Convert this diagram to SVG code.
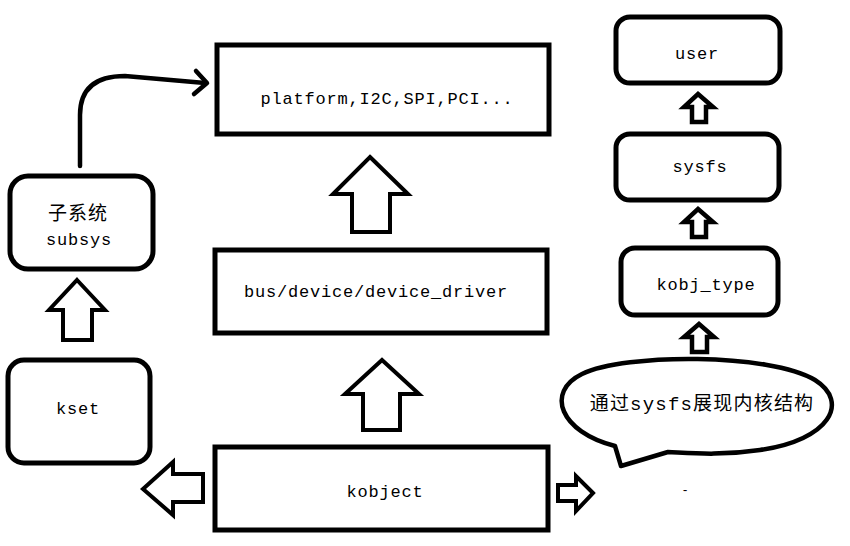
<svg xmlns="http://www.w3.org/2000/svg" width="850" height="546" viewBox="0 0 850 546">
<style>
.box{fill:#fff;stroke:#000;stroke-width:5}
.arr{fill:#fff;stroke:#000;stroke-width:4;stroke-linejoin:miter}
.sarr{fill:#fff;stroke:#000;stroke-width:4.5;stroke-linejoin:miter}
.t{font-family:"Liberation Mono","Noto Sans CJK SC",monospace;font-size:17px;letter-spacing:0.8px;fill:#000;text-anchor:middle}
.c{font-family:"Noto Sans CJK SC",sans-serif;font-size:19px;letter-spacing:1px;fill:#000;text-anchor:middle}
</style>
<rect width="850" height="546" fill="#fff"/>
<g id="connectors">
  <path d="M80,166 L80,115 Q80,76 125,76 L205,83" fill="none" stroke="#000" stroke-width="4.5" stroke-linecap="round"/>
  <path d="M196,71 L207,83 L194,94" fill="none" stroke="#000" stroke-width="4.5" stroke-linecap="round" stroke-linejoin="round"/>
  <polygon class="arr" points="370,157 408,194 390,194 390,232 352,232 352,194 333,194"/>
  <polygon class="arr" points="382,360 419,394 400,394 400,430 363,430 363,394 345,394"/>
  <polygon class="arr" points="77,280 105,310 92,310 92,340 63,340 63,310 49,310"/>
  <polygon class="arr" points="143,489 173,462 173,474 203,474 203,502 173,502 173,515"/>
  <polygon class="arr" points="593,493 576,476 576,485 558,485 558,501 576,501 576,511"/>
  <polygon class="sarr" points="698,94 713,107 706,107 706,122 692,122 692,107 684,107"/>
  <polygon class="sarr" points="698,209 713,222 706,222 706,237 692,237 692,222 684,222"/>
  <polygon class="sarr" points="699,324 714,337 707,337 707,352 692,352 692,337 684,337"/>
</g>
<g id="platform">
  <rect class="box" x="217" y="45" width="332" height="89"/>
  <text class="t" x="387" y="104">platform,I2C,SPI,PCI...</text>
</g>
<g id="bus">
  <rect class="box" x="215" y="250" width="332" height="83"/>
  <text class="t" x="376" y="297">bus/device/device_driver</text>
</g>
<g id="kobject">
  <rect class="box" x="215" y="447" width="333" height="83"/>
  <text class="t" x="385" y="497">kobject</text>
</g>
<g id="kset">
  <rect class="box" x="8" y="360" width="142" height="103" rx="16"/>
  <text class="t" x="78" y="414">kset</text>
</g>
<g id="subsys">
  <rect class="box" x="10" y="176" width="143" height="93" rx="18"/>
  <text class="c" x="78" y="220">子系统</text>
  <text class="t" x="79" y="245">subsys</text>
</g>
<g id="user">
  <rect class="box" x="616" y="17" width="164" height="66" rx="14"/>
  <text class="t" x="697" y="59">user</text>
</g>
<g id="sysfs">
  <rect class="box" x="616" y="134" width="163" height="66" rx="14"/>
  <text class="t" x="700" y="172">sysfs</text>
</g>
<g id="kobj_type">
  <rect class="box" x="621" y="248" width="157" height="67" rx="14"/>
  <text class="t" x="706" y="290">kobj_type</text>
</g>
<g id="callout">
  <path d="M615,446 C560,432 545,392 582,374 C625,353 770,353 815,380 C850,402 830,440 760,450 C720,456 690,453 668,452 L621,466 Z" fill="#fff" stroke="#000" stroke-width="4.5" stroke-linejoin="round"/>
  <text x="702" y="410" style="font-family:'Liberation Mono','Noto Sans CJK SC',monospace;font-size:19px;letter-spacing:1.2px;text-anchor:middle">通过sysfs展现内核结构</text>
</g>
<text x="685" y="494" style="font-family:'Liberation Mono',monospace;font-size:12px;text-anchor:middle">-</text>
</svg>
